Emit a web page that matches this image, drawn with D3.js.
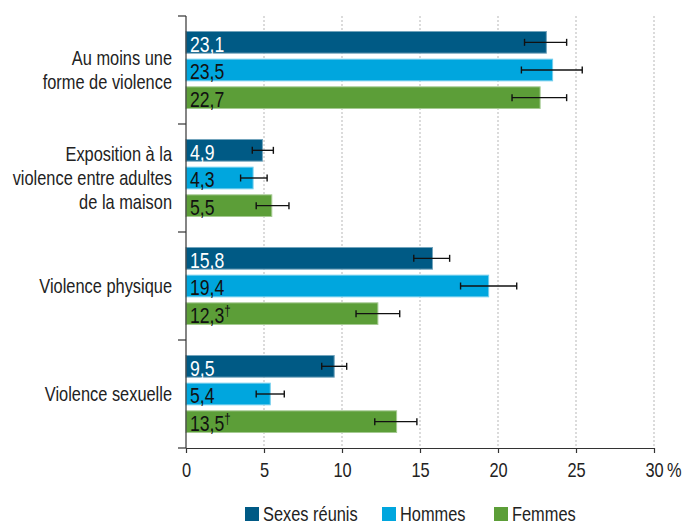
<!DOCTYPE html>
<html><head><meta charset="utf-8">
<script src="https://cdn.jsdelivr.net/npm/d3@7"></script>
<style>
body{margin:0;background:#fff;}
text{font-family:"Liberation Sans",Arial,sans-serif;}
</style></head>
<body><svg id="c" width="688" height="525"></svg>
<script>
const categories = [
  ["Au moins une","forme de violence"],
  ["Exposition à la","violence entre adultes","de la maison"],
  ["Violence physique"],
  ["Violence sexuelle"]
];
const seriesNames = ["Sexes réunis","Hommes","Femmes"];
const seriesColors = ["#005a85","#00a6de","#5c9e38"];
const labelColors = ["#ffffff","#111111","#111111"];
const sexesValues  = [23.1, 4.9, 15.8, 9.5];
const hommesValues = [23.5, 4.3, 19.4, 5.4];
const femmesValues = [22.7, 5.5, 12.3, 13.5];
const sexesLow  = [21.7, 4.25, 14.6, 8.7];
const sexesHigh = [24.4, 5.6, 16.9, 10.3];
const hommesLow  = [21.5, 3.5, 17.6, 4.5];
const hommesHigh = [25.4, 5.2, 21.2, 6.3];
const femmesLow  = [20.9, 4.5, 10.9, 12.1];
const femmesHigh = [24.4, 6.6, 13.7, 14.8];
const femmesNotes = ["", "", "†", "†"];
const xTicks = [0,5,10,15,20,25,30];

const values = [sexesValues, hommesValues, femmesValues];
const lows = [sexesLow, hommesLow, femmesLow];
const highs = [sexesHigh, hommesHigh, femmesHigh];
const notes = [["","","",""],["","","",""],femmesNotes];
const NARROW = 0.82;

const svg = d3.select("#c");
function ntext(parent, px, py, str, size, fill, anchor){
  const gg = parent.append("g").attr("transform",`translate(${px},${py}) scale(${NARROW},1)`);
  return gg.append("text").attr("x",0).attr("y",0).attr("font-size",size).attr("fill",fill)
    .attr("text-anchor",anchor||"start").text(str);
}

const x0 = 186, x1 = 654, yTop = 16, yBot = 448;
const x = d3.scaleLinear().domain([0,30]).range([x0,x1]);
const y = d3.scaleBand().domain(d3.range(categories.length)).range([yTop,yBot]);
const ys = d3.scaleBand().domain(d3.range(3)).range([0,y.bandwidth()]).paddingInner(0.217).paddingOuter(0.56);

// gridlines
svg.append("g").selectAll("line").data(xTicks.filter(d=>d>0)).join("line")
  .attr("x1",d=>x(d)).attr("x2",d=>x(d)).attr("y1",yTop).attr("y2",yBot)
  .attr("stroke","#c8c8c8").attr("stroke-width",1.3).attr("stroke-dasharray","2,2");

// bars
const g = svg.append("g");
categories.forEach((cat,i)=>{
  for(let s=0;s<3;s++){
    const v = values[s][i];
    const by = y(i)+ys(s), bh = ys.bandwidth();
    const col = seriesColors[s];
    g.append("rect").attr("x",x(0)).attr("y",by).attr("width",x(v)-x(0)).attr("height",bh)
      .attr("fill",col).attr("stroke",d3.interpolateRgb(col,"#fff")(0.45)).attr("stroke-width",1);
    const cy = by+bh/2;
    const eg = g.append("g").attr("stroke","#111").attr("stroke-width",1.4);
    eg.append("line").attr("x1",x(lows[s][i])).attr("x2",x(highs[s][i])).attr("y1",cy).attr("y2",cy);
    eg.append("line").attr("x1",x(lows[s][i])).attr("x2",x(lows[s][i])).attr("y1",cy-3.5).attr("y2",cy+3.5);
    eg.append("line").attr("x1",x(highs[s][i])).attr("x2",x(highs[s][i])).attr("y1",cy-3.5).attr("y2",cy+3.5);
    const t = ntext(g, x(0)+4, by+bh-1.6, d3.format(".1f")(v).replace(".",","), 21.5, labelColors[s]);
    if(notes[s][i]) t.append("tspan").attr("font-size",14).attr("dy",-7).text(notes[s][i]);
  }
});

// y axis
const ya = svg.append("g").attr("stroke","#333").attr("stroke-width",1.2);
ya.append("line").attr("x1",x0).attr("x2",x0).attr("y1",yTop).attr("y2",yBot);
d3.range(categories.length+1).forEach(i=>{
  const yy = yTop + i*y.step();
  ya.append("line").attr("x1",x0-8).attr("x2",x0).attr("y1",yy).attr("y2",yy);
});
// category labels
categories.forEach((lines,i)=>{
  const cy = y(i)+y.bandwidth()/2;
  const lh = 24;
  lines.forEach((ln,k)=>{
    ntext(svg, 172, cy + 7 + (k-(lines.length-1)/2)*lh, ln, 20, "#222", "end");
  });
});

// x axis
const xa = svg.append("g").attr("transform",`translate(0,${yBot})`)
  .call(d3.axisBottom(x).tickValues(xTicks).tickSize(5).tickSizeOuter(0).tickFormat(d=>d));
xa.select(".domain").attr("stroke","#333").attr("stroke-width",1.2);
xa.selectAll(".tick line").attr("stroke","#333").attr("stroke-width",1.2);
xa.selectAll(".tick text").attr("font-size",20).attr("fill","#222")
  .attr("y",0).attr("dy",0).attr("transform",`translate(0,29) scale(${NARROW},1)`)
  .attr("font-family",null);
ntext(xa, x(30)+13, 29, "%", 20, "#222", "start");

// legend
const legX = [245, 382, 494];
seriesNames.forEach((n,s)=>{
  svg.append("rect").attr("x",legX[s]).attr("y",507).attr("width",14).attr("height",14).attr("fill",seriesColors[s]);
  ntext(svg, legX[s]+18, 521, n, 20, "#222", "start");
});
</script></body></html>
